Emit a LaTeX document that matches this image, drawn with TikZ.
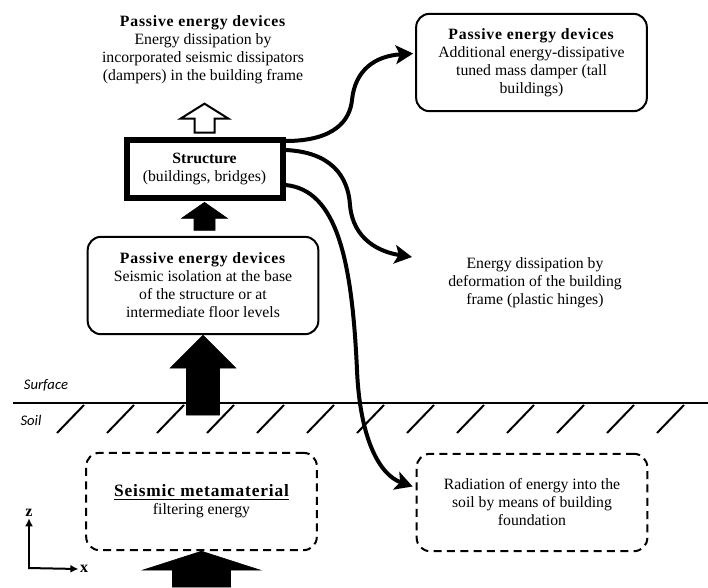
\documentclass[tikz,border=0pt]{standalone}
\usepackage{fontspec}
\setmainfont{Liberation Serif}
\newfontfamily\calfont{Carlito}
\usetikzlibrary{calc,arrows.meta}
\def\blockarrow[#1](#2)(#3:#4:#5:#6){\draw[#1] (#2) -- ++(-#3,#4) -- ++({#3-#5},0) -- ++(0,#6) -- ++({2*#5},0) -- ++(0,-#6) -- ++({#3-#5},0) -- cycle;}
\newcommand\devhead[1]{\textbf{\addfontfeature{LetterSpace=5}#1}}
\tikzset{
	txt/.style={align=center, font=\fontsize{11.8}{13.5}\selectfont},
	roundbox/.style={txt, draw, line width=1.5pt, rounded corners=10pt, minimum width=173pt, minimum height=73pt, inner sep=0pt},
	dashbox/.style={roundbox, dash pattern=on 6pt off 4pt},
	flow/.style={line width=3pt, -{Stealth[length=13pt,width=14pt,inset=3pt]}},
	ground/.style={line width=1.5pt},
	axis/.style={line width=1.5pt, -{Latex[length=6pt,width=6pt]}},
	axlabel/.style={font=\fontsize{12}{14}\selectfont\bfseries, inner sep=1pt},
}
\begin{document}
\begin{tikzpicture}[x=0.75pt, y=-0.75pt]
			%%%%% START %%%%%
			\useasboundingbox (0, 0) rectangle (708, 587);
			
			\node[txt] (topnote) at (203, 50) {\devhead{Passive energy devices}\\Energy dissipation by\\incorporated seismic dissipators\\(dampers) in the building frame};
			\node[txt, draw, line width=4.5pt, minimum width=117pt, minimum height=44pt] (struct) at (204.5, 169) {\textbf{Structure}\\(buildings, bridges)};
			\node[roundbox] (isolation) at (203, 285.5) {\devhead{Passive energy devices}\\Seismic isolation at the base\\of the structure or at\\intermediate floor levels};
			\node[roundbox] (damper) at (531.5, 62.5) {\devhead{Passive energy devices}\\Additional energy-dissipative\\tuned mass damper (tall\\buildings)};
			\node[txt] (deform) at (535, 283) {Energy dissipation by\\deformation of the building\\frame (plastic hinges)};
			\node[dashbox] (meta) at (201.5, 501.5) {{\fontsize{13}{17}\selectfont\devhead{\underline{Seismic metamaterial}}}\\filtering energy};
			\node[dashbox] (radiation) at (532, 502.5) {Radiation of energy into the\\soil by means of building\\foundation};
			
			% ground
			\draw[ground] (13, 403) -- (708, 403);
			\foreach \i in {0,...,12}
				\draw[ground] ({57+50*\i}, 433) -- ++(27, -28);
			\node[font=\calfont\itshape\fontsize{11}{13}\selectfont] (surface) at (46, 385) {Surface};
			\node[font=\calfont\itshape\fontsize{11}{13}\selectfont] (soil) at (31, 420) {Soil};
			
			% block arrows
			\blockarrow[line width=1.5pt, fill=white]($(struct.north)+(0, -33)$)(24:15:10:14)
			\blockarrow[fill=black]($(struct.south)+(0, 1)$)(23:16:10.5:12)
			\blockarrow[fill=black](isolation.south)(33:33:16.5:47)
			\blockarrow[fill=black](meta.south)(59:19:29:17)
			
			% energy paths
			\coordinate (tipA) at ($(damper.west)+(-2, -9)$);
			\coordinate (tipB) at (412, 257);
			\coordinate (tipC) at ($(radiation.west)+(-3, -16)$);
			\draw[flow] ($(struct.east)+(0, -28)$) .. controls (335, 141) and (350, 120) .. (352, 100) .. controls (355, 70) and (375, 56) .. (tipA);
			\draw[flow] ($(struct.east)+(0, -19)$) .. controls (330, 152) and (348, 175) .. (350, 205) .. controls (353, 240) and (380, 252) .. (tipB);
			\draw[flow] ($(struct.east)+(0, 16)$) .. controls (337, 190) and (352, 260) .. (357, 370) .. controls (360, 440) and (380, 475) .. (tipC);
			
			% axes
			\coordinate (origin) at (29, 568);
			\node[axlabel] (zlab) at (29, 513) {z};
			\node[axlabel] (xlab) at (84, 569) {x};
			\draw[axis] (origin) -- (zlab.south);
			\draw[axis] ($(origin)+(-0.75, 0)$) -- (xlab.west);
			%%%%% END %%%%%
		\end{tikzpicture}
\end{document}
